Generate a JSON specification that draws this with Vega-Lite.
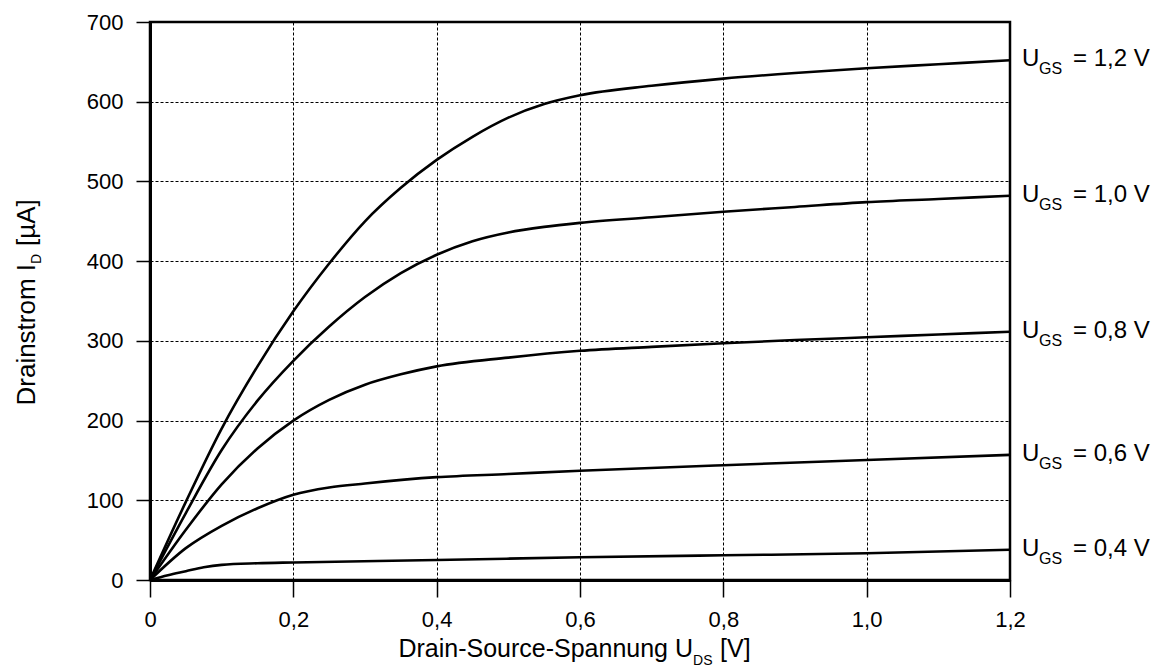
{
  "$schema": "https://vega.github.io/schema/vega-lite/v6.json",
  "width": 860,
  "height": 558,
  "autosize": {"type": "none"},
  "padding": {"left": 150, "top": 22, "right": 159, "bottom": 90},
  "background": "white",
  "config": {
    "font": "Liberation Sans",
    "view": {"stroke": "black", "strokeWidth": 2.5},
    "text": {"font": "Liberation Sans", "color": "black"}
  },
  "datasets": {
    "curves": [
      {"ugs": "1,2 V", "uds": 0, "id": 0},
      {"ugs": "1,2 V", "uds": 0.05, "id": 98},
      {"ugs": "1,2 V", "uds": 0.1, "id": 190},
      {"ugs": "1,2 V", "uds": 0.15, "id": 268},
      {"ugs": "1,2 V", "uds": 0.2, "id": 337},
      {"ugs": "1,2 V", "uds": 0.25, "id": 397},
      {"ugs": "1,2 V", "uds": 0.3, "id": 450},
      {"ugs": "1,2 V", "uds": 0.35, "id": 492},
      {"ugs": "1,2 V", "uds": 0.4, "id": 527},
      {"ugs": "1,2 V", "uds": 0.45, "id": 556},
      {"ugs": "1,2 V", "uds": 0.5, "id": 580},
      {"ugs": "1,2 V", "uds": 0.55, "id": 597},
      {"ugs": "1,2 V", "uds": 0.6, "id": 608},
      {"ugs": "1,2 V", "uds": 0.7, "id": 620},
      {"ugs": "1,2 V", "uds": 0.8, "id": 629},
      {"ugs": "1,2 V", "uds": 0.9, "id": 636},
      {"ugs": "1,2 V", "uds": 1.0, "id": 642},
      {"ugs": "1,2 V", "uds": 1.1, "id": 647},
      {"ugs": "1,2 V", "uds": 1.2, "id": 652},
      {"ugs": "1,0 V", "uds": 0, "id": 0},
      {"ugs": "1,0 V", "uds": 0.05, "id": 84},
      {"ugs": "1,0 V", "uds": 0.1, "id": 163},
      {"ugs": "1,0 V", "uds": 0.15, "id": 225},
      {"ugs": "1,0 V", "uds": 0.2, "id": 275},
      {"ugs": "1,0 V", "uds": 0.25, "id": 318},
      {"ugs": "1,0 V", "uds": 0.3, "id": 355},
      {"ugs": "1,0 V", "uds": 0.35, "id": 385},
      {"ugs": "1,0 V", "uds": 0.4, "id": 408},
      {"ugs": "1,0 V", "uds": 0.45, "id": 425},
      {"ugs": "1,0 V", "uds": 0.5, "id": 436},
      {"ugs": "1,0 V", "uds": 0.55, "id": 443},
      {"ugs": "1,0 V", "uds": 0.6, "id": 448},
      {"ugs": "1,0 V", "uds": 0.7, "id": 455},
      {"ugs": "1,0 V", "uds": 0.8, "id": 462},
      {"ugs": "1,0 V", "uds": 0.9, "id": 468},
      {"ugs": "1,0 V", "uds": 1.0, "id": 474},
      {"ugs": "1,0 V", "uds": 1.1, "id": 478},
      {"ugs": "1,0 V", "uds": 1.2, "id": 482},
      {"ugs": "0,8 V", "uds": 0, "id": 0},
      {"ugs": "0,8 V", "uds": 0.05, "id": 63},
      {"ugs": "0,8 V", "uds": 0.1, "id": 120},
      {"ugs": "0,8 V", "uds": 0.15, "id": 165},
      {"ugs": "0,8 V", "uds": 0.2, "id": 200},
      {"ugs": "0,8 V", "uds": 0.25, "id": 226},
      {"ugs": "0,8 V", "uds": 0.3, "id": 245},
      {"ugs": "0,8 V", "uds": 0.35, "id": 258},
      {"ugs": "0,8 V", "uds": 0.4, "id": 268},
      {"ugs": "0,8 V", "uds": 0.5, "id": 279},
      {"ugs": "0,8 V", "uds": 0.6, "id": 287.5},
      {"ugs": "0,8 V", "uds": 0.7, "id": 292.5},
      {"ugs": "0,8 V", "uds": 0.8, "id": 297},
      {"ugs": "0,8 V", "uds": 0.9, "id": 301},
      {"ugs": "0,8 V", "uds": 1.0, "id": 304.5},
      {"ugs": "0,8 V", "uds": 1.1, "id": 308},
      {"ugs": "0,8 V", "uds": 1.2, "id": 311.5},
      {"ugs": "0,6 V", "uds": 0, "id": 0},
      {"ugs": "0,6 V", "uds": 0.05, "id": 40},
      {"ugs": "0,6 V", "uds": 0.1, "id": 68},
      {"ugs": "0,6 V", "uds": 0.15, "id": 90},
      {"ugs": "0,6 V", "uds": 0.2, "id": 107},
      {"ugs": "0,6 V", "uds": 0.25, "id": 116},
      {"ugs": "0,6 V", "uds": 0.3, "id": 121},
      {"ugs": "0,6 V", "uds": 0.4, "id": 129},
      {"ugs": "0,6 V", "uds": 0.5, "id": 133},
      {"ugs": "0,6 V", "uds": 0.6, "id": 137},
      {"ugs": "0,6 V", "uds": 0.8, "id": 144},
      {"ugs": "0,6 V", "uds": 1.0, "id": 150.5},
      {"ugs": "0,6 V", "uds": 1.2, "id": 157},
      {"ugs": "0,4 V", "uds": 0, "id": 0},
      {"ugs": "0,4 V", "uds": 0.025, "id": 6},
      {"ugs": "0,4 V", "uds": 0.05, "id": 11},
      {"ugs": "0,4 V", "uds": 0.075, "id": 16},
      {"ugs": "0,4 V", "uds": 0.1, "id": 19},
      {"ugs": "0,4 V", "uds": 0.15, "id": 21},
      {"ugs": "0,4 V", "uds": 0.2, "id": 22},
      {"ugs": "0,4 V", "uds": 0.4, "id": 25},
      {"ugs": "0,4 V", "uds": 0.6, "id": 28.5},
      {"ugs": "0,4 V", "uds": 0.8, "id": 31},
      {"ugs": "0,4 V", "uds": 1.0, "id": 33.5},
      {"ugs": "0,4 V", "uds": 1.2, "id": 38}
    ]
  },
  "data": {"name": "curves"},
  "layer": [
    {
      "mark": {"type": "line", "color": "black", "strokeWidth": 2.6, "interpolate": "monotone"},
      "encoding": {
        "x": {
          "field": "uds", "type": "quantitative",
          "scale": {"domain": [0, 1.2], "nice": false, "zero": false},
          "axis": {
            "title": null, "values": [0, 0.2, 0.4, 0.6, 0.8, 1.0, 1.2],
            "grid": true, "gridColor": "black", "gridDash": [3, 2], "gridWidth": 1, "gridOpacity": 1,
            "domainColor": "black", "domainWidth": 3,
            "tickColor": "black", "tickWidth": 1.5, "tickSize": 17,
            "labelFont": "Liberation Sans", "labelFontSize": 22, "labelColor": "black", "labelPadding": 12,
            "labelFlush": false, "labelOverlap": false,
            "labelExpr": "datum.value == 0 ? '0' : replace(format(datum.value, '.1f'), '.', ',')"
          }
        },
        "y": {
          "field": "id", "type": "quantitative",
          "scale": {"domain": [0, 700], "nice": false},
          "axis": {
            "title": null, "values": [0, 100, 200, 300, 400, 500, 600, 700],
            "grid": true, "gridColor": "black", "gridDash": [3, 2], "gridWidth": 1, "gridOpacity": 1,
            "domainColor": "black", "domainWidth": 3,
            "tickColor": "black", "tickWidth": 1.5, "tickSize": 14,
            "labelFont": "Liberation Sans", "labelFontSize": 22, "labelColor": "black", "labelPadding": 13,
            "labelFlush": false, "labelOverlap": false
          }
        },
        "detail": {"field": "ugs", "type": "nominal"}
      }
    },
    {
      "transform": [{"filter": "datum.uds == 1.2"}],
      "mark": {"type": "text", "align": "left", "baseline": "alphabetic", "fontSize": 24, "dx": 12, "dy": 6},
      "encoding": {
        "x": {"field": "uds", "type": "quantitative"},
        "y": {"field": "id", "type": "quantitative"},
        "text": {"value": "U"}
      }
    },
    {
      "transform": [{"filter": "datum.uds == 1.2"}],
      "mark": {"type": "text", "align": "left", "baseline": "alphabetic", "fontSize": 16, "dx": 29, "dy": 14},
      "encoding": {
        "x": {"field": "uds", "type": "quantitative"},
        "y": {"field": "id", "type": "quantitative"},
        "text": {"value": "GS"}
      }
    },
    {
      "transform": [{"filter": "datum.uds == 1.2"}, {"calculate": "'= ' + datum.ugs", "as": "lab"}],
      "mark": {"type": "text", "align": "left", "baseline": "alphabetic", "fontSize": 24, "dx": 63, "dy": 6},
      "encoding": {
        "x": {"field": "uds", "type": "quantitative"},
        "y": {"field": "id", "type": "quantitative"},
        "text": {"field": "lab"}
      }
    },
    {
      "data": {"values": [{}]},
      "mark": {"type": "text", "align": "right", "baseline": "alphabetic", "fontSize": 25},
      "encoding": {
        "x": {"datum": 0.7577, "type": "quantitative"},
        "y": {"datum": -96, "type": "quantitative"},
        "text": {"value": "Drain-Source-Spannung U"}
      }
    },
    {
      "data": {"values": [{}]},
      "mark": {"type": "text", "align": "left", "baseline": "alphabetic", "fontSize": 14, "dy": 8},
      "encoding": {
        "x": {"datum": 0.7577, "type": "quantitative"},
        "y": {"datum": -96, "type": "quantitative"},
        "text": {"value": "DS"}
      }
    },
    {
      "data": {"values": [{}]},
      "mark": {"type": "text", "align": "left", "baseline": "alphabetic", "fontSize": 25, "dx": 27},
      "encoding": {
        "x": {"datum": 0.7577, "type": "quantitative"},
        "y": {"datum": -96, "type": "quantitative"},
        "text": {"value": "[V]"}
      }
    },
    {
      "data": {"values": [{}]},
      "mark": {"type": "text", "align": "right", "baseline": "alphabetic", "fontSize": 26, "angle": 270},
      "encoding": {
        "x": {"datum": -0.1605, "type": "quantitative"},
        "y": {"datum": 396.5, "type": "quantitative"},
        "text": {"value": "Drainstrom I"}
      }
    },
    {
      "data": {"values": [{}]},
      "mark": {"type": "text", "align": "left", "baseline": "alphabetic", "fontSize": 14, "angle": 270, "dy": 6},
      "encoding": {
        "x": {"datum": -0.1605, "type": "quantitative"},
        "y": {"datum": 396.5, "type": "quantitative"},
        "text": {"value": "D"}
      }
    },
    {
      "data": {"values": [{}]},
      "mark": {"type": "text", "align": "left", "baseline": "alphabetic", "fontSize": 26, "angle": 270, "dx": 18},
      "encoding": {
        "x": {"datum": -0.1605, "type": "quantitative"},
        "y": {"datum": 396.5, "type": "quantitative"},
        "text": {"value": "[µA]"}
      }
    }
  ]
}
